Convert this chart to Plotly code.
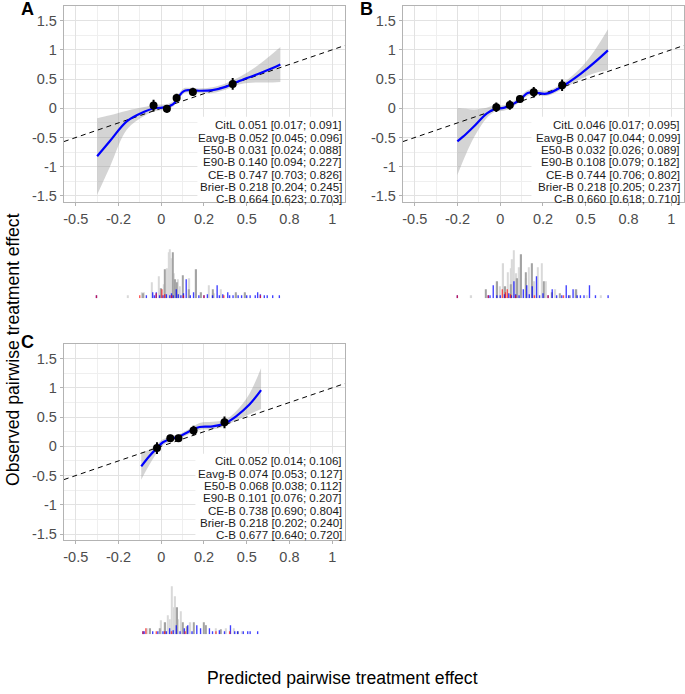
import plotly.graph_objects as go

W, H = 685, 694

# ---------------- data ----------------
x_tickvals = [-0.5, -0.25, 0, 0.25, 0.5, 0.75, 1.0]
x_ticktext = ["-0.5", "-0.2", "0", "0.2", "0.5", "0.8", "1"]
y_tickvals = [-1.5, -1.0, -0.5, 0, 0.5, 1.0, 1.5]
y_ticktext = ["-1.5", "-1", "-0.5", "0", "0.5", "1", "1.5"]

# Panel A smooth calibration curve
A_x = [-0.375, -0.30, -0.20, -0.10, -0.04, 0.03, 0.07, 0.10, 0.13, 0.16, 0.22, 0.30, 0.38, 0.46, 0.55, 0.62, 0.697]
A_y = [-0.82, -0.56, -0.22, -0.06, 0.00, 0.02, 0.07, 0.19, 0.29, 0.31, 0.30, 0.31, 0.37, 0.47, 0.57, 0.65, 0.75]
A_lo = [-1.48, -1.00, -0.36, -0.13, -0.05, -0.02, 0.03, 0.14, 0.25, 0.27, 0.26, 0.26, 0.32, 0.41, 0.44, 0.44, 0.45]
A_hi = [-0.17, -0.12, -0.04, 0.02, 0.06, 0.07, 0.12, 0.24, 0.34, 0.35, 0.34, 0.36, 0.43, 0.54, 0.70, 0.86, 1.05]
A_px = [-0.045, 0.033, 0.090, 0.185, 0.418]
A_py = [0.046, -0.010, 0.177, 0.280, 0.417]
A_pe = [0.10, 0.065, 0.07, 0.07, 0.10]

# Panel B
B_x = [-0.251, -0.20, -0.15, -0.08, -0.03, 0.02, 0.06, 0.12, 0.16, 0.20, 0.27, 0.36, 0.47, 0.55, 0.63]
B_y = [-0.566, -0.44, -0.30, -0.09, -0.01, 0.006, 0.046, 0.16, 0.26, 0.27, 0.25, 0.37, 0.59, 0.78, 0.99]
B_lo = [-1.14, -0.78, -0.48, -0.17, -0.06, -0.04, 0.00, 0.12, 0.21, 0.23, 0.21, 0.32, 0.50, 0.60, 0.65]
B_hi = [0.006, -0.01, -0.02, 0.01, 0.05, 0.05, 0.09, 0.21, 0.31, 0.32, 0.30, 0.42, 0.69, 0.98, 1.35]
B_px = [-0.023, 0.056, 0.115, 0.196, 0.362]
B_py = [0.017, 0.057, 0.160, 0.274, 0.394]
B_pe = [0.08, 0.08, 0.06, 0.09, 0.10]

# Panel C
C_x = [-0.117, -0.07, -0.025, 0.01, 0.053, 0.107, 0.165, 0.224, 0.30, 0.37, 0.438, 0.516, 0.584]
C_y = [-0.343, -0.17, -0.03, 0.07, 0.126, 0.17, 0.257, 0.33, 0.34, 0.39, 0.514, 0.714, 0.96]
C_lo = [-0.57, -0.32, -0.11, 0.02, 0.08, 0.13, 0.21, 0.28, 0.29, 0.34, 0.44, 0.55, 0.64]
C_hi = [-0.10, -0.06, 0.04, 0.12, 0.17, 0.21, 0.30, 0.40, 0.42, 0.45, 0.60, 0.90, 1.34]
C_px = [-0.025, 0.053, 0.101, 0.189, 0.370]
C_py = [-0.030, 0.140, 0.140, 0.270, 0.410]
C_pe = [0.10, 0.06, 0.06, 0.08, 0.10]

A_text = ["CitL 0.051 [0.017; 0.091]", "Eavg-B 0.052 [0.045; 0.096]", "E50-B 0.031 [0.024; 0.088]",
          "E90-B 0.140 [0.094; 0.227]", "CE-B 0.747 [0.703; 0.826]", "Brier-B 0.218 [0.204; 0.245]",
          "C-B 0.664 [0.623; 0.703]"]
B_text = ["CitL 0.046 [0.017; 0.095]", "Eavg-B 0.047 [0.044; 0.099]", "E50-B 0.032 [0.026; 0.089]",
          "E90-B 0.108 [0.079; 0.182]", "CE-B 0.744 [0.706; 0.802]", "Brier-B 0.218 [0.205; 0.237]",
          "C-B 0.660 [0.618; 0.710]"]
C_text = ["CitL 0.052 [0.014; 0.106]", "Eavg-B 0.074 [0.053; 0.127]", "E50-B 0.068 [0.038; 0.112]",
          "E90-B 0.101 [0.076; 0.207]", "CE-B 0.738 [0.690; 0.804]", "Brier-B 0.218 [0.202; 0.240]",
          "C-B 0.677 [0.640; 0.720]"]

# Histogram strips (x position, height)
A_light_x = [-0.195, -0.115, -0.10, -0.055, -0.016, 0.015, 0.035, 0.043, 0.049, 0.057, 0.075, 0.097, 0.11, 0.165, 0.278, 0.31, 0.35, 0.44, 0.49]
A_light_h = [3, 6, 6, 16, 22, 14, 30, 46, 49, 40, 25, 19, 12, 20, 13, 5, 9, 4, 5]
A_dark_x = [-0.105, 0.0, 0.02, 0.068, 0.082, 0.09, 0.126, 0.16, 0.205, 0.234, 0.301, 0.438, 0.49]
A_dark_h = [5, 10, 29, 46, 19, 16, 23, 9, 29, 6, 9, 6, 6]
A_blue_x = [-0.379, -0.087, -0.05, -0.04, -0.029, -0.01, 0.01, 0.03, 0.05, 0.06, 0.07, 0.088, 0.10, 0.115, 0.13, 0.146, 0.17, 0.189,
            0.22, 0.25, 0.27, 0.30, 0.327, 0.34, 0.36, 0.389, 0.40, 0.42, 0.45, 0.47, 0.50, 0.52, 0.55, 0.564, 0.58, 0.603, 0.62, 0.652, 0.691]
A_blue_h = [3, 3, 6, 3, 6, 3, 3, 4, 3, 5, 3, 9, 4, 3, 5, 19, 3, 6,
            3, 3, 4, 3, 13, 3, 4, 6, 3, 3, 3, 3, 3, 3, 3, 6, 4, 3, 3, 3, 3]
A_red_x = [-0.379, -0.126, -0.03, 0.004, 0.02, 0.06, 0.13, 0.25, 0.366, 0.58]
A_red_h = [3, 3, 5, 9, 4, 3, 3, 3, 3, 3]

B_light_x = [-0.169, 0.0, 0.018, 0.045, 0.06, 0.07, 0.08, 0.095, 0.109, 0.15, 0.167, 0.20, 0.22, 0.245, 0.265, 0.323, 0.446, 0.507, 0.59]
B_light_h = [3, 12, 35, 26, 30, 39, 48, 25, 31, 20, 31, 17, 31, 35, 17, 9, 6, 3, 3]
B_dark_x = [-0.086, -0.017, 0.03, 0.06, 0.10, 0.123, 0.148, 0.187, 0.255, 0.30, 0.35, 0.407, 0.446]
B_dark_h = [9, 17, 12, 14, 20, 44, 26, 35, 17, 6, 5, 3, 9]
B_blue_x = [-0.251, -0.07, -0.06, -0.041, -0.02, 0.0, 0.025, 0.05, 0.065, 0.08, 0.09, 0.11, 0.135, 0.155, 0.17, 0.187, 0.212,
            0.23, 0.25, 0.28, 0.304, 0.33, 0.36, 0.386, 0.40, 0.426, 0.45, 0.469, 0.49, 0.522, 0.557, 0.631]
B_blue_h = [3, 3, 3, 13, 3, 3, 4, 5, 3, 17, 4, 3, 9, 13, 4, 12, 22,
            3, 5, 3, 9, 3, 3, 13, 3, 9, 3, 3, 3, 13, 3, 3]
B_red_x = [-0.251, -0.07, 0.012, 0.03, 0.041, 0.06, 0.09, 0.20, 0.28, 0.37]
B_red_h = [3, 3, 9, 6, 9, 4, 3, 3, 3, 3]

C_light_x = [-0.082, 0.0, 0.039, 0.05, 0.062, 0.072, 0.082, 0.10, 0.113, 0.171, 0.263, 0.321, 0.38, 0.424, 0.47]
C_light_h = [6, 14, 19, 15, 48, 27, 38, 15, 23, 12, 9, 6, 6, 6, 3]
C_dark_x = [-0.064, -0.01, 0.024, 0.094, 0.126, 0.15, 0.19, 0.249, 0.259, 0.35, 0.45]
C_dark_h = [6, 6, 12, 27, 12, 8, 12, 12, 9, 5, 3]
C_blue_x = [-0.107, -0.10, -0.05, -0.02, 0.01, 0.03, 0.049, 0.07, 0.088, 0.11, 0.135, 0.155, 0.18, 0.208, 0.23,
            0.282, 0.30, 0.34, 0.37, 0.405, 0.43, 0.447, 0.48, 0.506, 0.52, 0.564]
C_blue_h = [3, 3, 3, 3, 3, 3, 6, 4, 9, 3, 6, 9, 3, 9, 6,
            6, 3, 4, 3, 9, 3, 3, 3, 3, 3, 3]
C_red_x = [-0.107, -0.09, -0.029, 0.02, 0.06, 0.14, 0.32, 0.40]
C_red_h = [3, 6, 3, 3, 3, 3, 3, 3]

# ---------------- layout helpers ----------------
def dx(a, b):
    return [a / W, b / W]

def dy(top, bottom):
    return [1 - bottom / H, 1 - top / H]

XR = [-0.57, 1.075]
YR = [-1.61, 1.75]
FONT = "Liberation Sans, Arial, sans-serif"
GRID = "#e2e2e2"
MINOR = "#efefef"
BORDER = "#b3b3b3"
TICKC = "#4d4d4d"

panels = [
    dict(name="A", x=A_x, y=A_y, lo=A_lo, hi=A_hi, px=A_px, py=A_py, pe=A_pe, text=A_text,
         hist=(A_light_x, A_light_h, A_dark_x, A_dark_h, A_blue_x, A_blue_h, A_red_x, A_red_h),
         xd=(63, 345), yd=(6, 203), hd=(249, 299), txt_top=125, txt_right=343, box_left=197, box_top=117),
    dict(name="B", x=B_x, y=B_y, lo=B_lo, hi=B_hi, px=B_px, py=B_py, pe=B_pe, text=B_text,
         hist=(B_light_x, B_light_h, B_dark_x, B_dark_h, B_blue_x, B_blue_h, B_red_x, B_red_h),
         xd=(403, 685), yd=(6, 203), hd=(249, 299), txt_top=125, txt_right=682, box_left=532, box_top=117),
    dict(name="C", x=C_x, y=C_y, lo=C_lo, hi=C_hi, px=C_px, py=C_py, pe=C_pe, text=C_text,
         hist=(C_light_x, C_light_h, C_dark_x, C_dark_h, C_blue_x, C_blue_h, C_red_x, C_red_h),
         xd=(63, 345), yd=(345, 542), hd=(586, 636), txt_top=462, txt_right=343, box_left=195, box_top=455),
]

fig = go.Figure()
layout = dict(width=W, height=H, margin=dict(l=0, r=0, t=0, b=0),
              paper_bgcolor="white", plot_bgcolor="white", showlegend=False,
              barmode="overlay", annotations=[], shapes=[])

for i, p in enumerate(panels):
    k = i + 1
    xa = "x" if k == 1 else f"x{k}"
    ya = "y" if k == 1 else f"y{k}"
    hk = k + 3
    hxa, hya = f"x{hk}", f"y{hk}"

    # confidence band
    fig.add_trace(go.Scatter(x=p["x"], y=p["lo"], mode="lines", line=dict(width=0, shape="spline"),
                             xaxis=xa, yaxis=ya, hoverinfo="skip"))
    fig.add_trace(go.Scatter(x=p["x"], y=p["hi"], mode="lines", line=dict(width=0, shape="spline"),
                             fill="tonexty", fillcolor="rgba(153,153,153,0.42)", xaxis=xa, yaxis=ya, hoverinfo="skip"))
    # diagonal
    fig.add_trace(go.Scatter(x=XR, y=XR, mode="lines", line=dict(color="black", width=1, dash="5px,4px"),
                             xaxis=xa, yaxis=ya))
    # smooth curve
    fig.add_trace(go.Scatter(x=p["x"], y=p["y"], mode="lines", line=dict(color="#0000ff", width=2.2, shape="spline"),
                             xaxis=xa, yaxis=ya))
    # grouped points
    fig.add_trace(go.Scatter(x=p["px"], y=p["py"], mode="markers", marker=dict(color="black", size=8),
                             error_y=dict(type="data", array=p["pe"], color="black", thickness=2, width=0),
                             xaxis=xa, yaxis=ya))

    # histogram strip
    lx, lh, dkx, dkh, bx, bh, rx, rh = p["hist"]
    for xs, hs, col in [(lx, lh, "#d9d9d9"), (dkx, dkh, "#a3a3a3"),
                        (bx, bh, "rgba(0,0,255,0.75)"), (rx, rh, "rgba(255,0,0,0.65)")]:
        fig.add_trace(go.Bar(x=xs, y=hs, width=0.008, marker=dict(color=col, line=dict(width=0)),
                             xaxis=hxa, yaxis=hya))

    axis_common = dict(range=XR, domain=dx(*p["xd"]), showline=True, mirror=True, linecolor=BORDER, linewidth=1,
                       showgrid=True, gridcolor=GRID, gridwidth=1, zeroline=False,
                       tickmode="array", tickvals=x_tickvals, ticktext=x_ticktext,
                       ticks="outside", ticklen=3, tickcolor=BORDER,
                       tickfont=dict(family=FONT, size=14.5, color=TICKC),
                       minor=dict(tickmode="array", tickvals=[-0.375, -0.125, 0.125, 0.375, 0.625, 0.875],
                                  showgrid=True, gridcolor=MINOR, gridwidth=1, ticks=""),
                       anchor=ya)
    layout["xaxis" if k == 1 else f"xaxis{k}"] = axis_common
    layout["yaxis" if k == 1 else f"yaxis{k}"] = dict(
        range=YR, domain=dy(*p["yd"]), showline=True, mirror=True, linecolor=BORDER, linewidth=1,
        showgrid=True, gridcolor=GRID, gridwidth=1, zeroline=False,
        tickmode="array", tickvals=y_tickvals, ticktext=y_ticktext,
        ticks="outside", ticklen=3, tickcolor=BORDER,
        tickfont=dict(family=FONT, size=14.5, color=TICKC),
        minor=dict(tickmode="array", tickvals=[-1.25, -0.75, -0.25, 0.25, 0.75, 1.25],
                   showgrid=True, gridcolor=MINOR, gridwidth=1, ticks=""),
        anchor=xa)
    layout[f"xaxis{hk}"] = dict(range=XR, domain=dx(*p["xd"]), visible=False, anchor=hya)
    layout[f"yaxis{hk}"] = dict(range=[0, 50], domain=dy(*p["hd"]), visible=False, anchor=hxa)

    # white box behind metrics
    x0 = XR[0] + (p["box_left"] - p["xd"][0]) / (p["xd"][1] - p["xd"][0]) * (XR[1] - XR[0])
    y1 = YR[1] - (p["box_top"] - p["yd"][0]) / (p["yd"][1] - p["yd"][0]) * (YR[1] - YR[0])
    layout["shapes"].append(dict(type="rect", xref=xa, yref=ya, x0=x0, x1=XR[1], y0=YR[0], y1=y1,
                                 fillcolor="white", line=dict(width=0), layer="between"))

    # metrics text
    for j, t in enumerate(p["text"]):
        layout["annotations"].append(dict(
            text=t, xref="paper", yref="paper", x=p["txt_right"] / W, y=1 - (p["txt_top"] + j * 12.4) / H,
            xanchor="right", yanchor="middle", showarrow=False, borderpad=0,
            font=dict(family=FONT, size=11.6, color="#1a1a1a")))

    # panel letter
    lx0 = 27 if p["name"] != "B" else 367
    ly0 = 9 if p["name"] != "C" else 343
    layout["annotations"].append(dict(text=f"<b>{p['name']}</b>", xref="paper", yref="paper",
                                      x=lx0 / W, y=1 - ly0 / H, xanchor="center", yanchor="middle",
                                      showarrow=False, font=dict(family=FONT, size=18, color="black")))

layout["annotations"].append(dict(text="Observed pairwise treatment effect", xref="paper", yref="paper",
                                  x=12 / W, y=1 - 350 / H, textangle=-90, xanchor="center", yanchor="middle",
                                  showarrow=False, font=dict(family=FONT, size=17.6, color="black")))
layout["annotations"].append(dict(text="Predicted pairwise treatment effect", xref="paper", yref="paper",
                                  x=342 / W, y=1 - 680 / H, xanchor="center", yanchor="middle",
                                  showarrow=False, font=dict(family=FONT, size=17.6, color="black")))

fig.update_layout(**layout)
fig.write_html("out.html", config={"displayModeBar": False},
               post_script="document.body.style.margin='0';document.body.style.overflow='hidden';")
